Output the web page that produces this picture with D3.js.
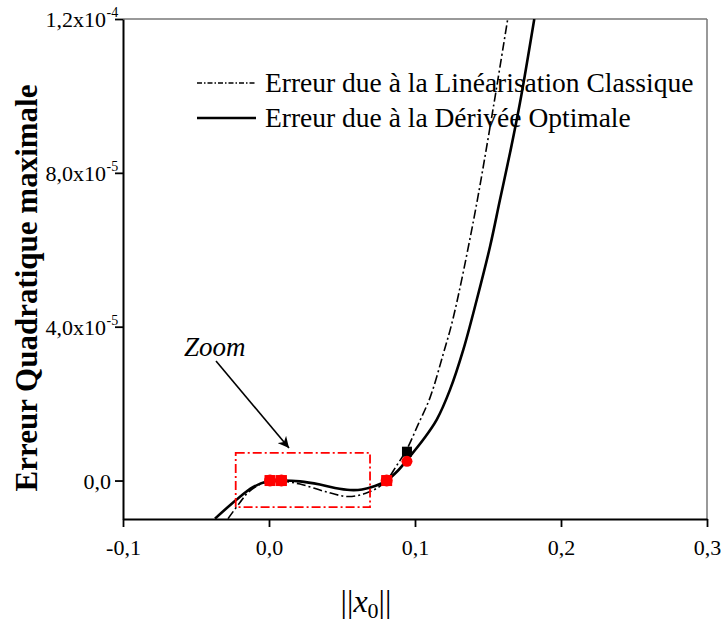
<!DOCTYPE html>
<html>
<head>
<meta charset="utf-8">
<script src="https://cdn.jsdelivr.net/npm/d3@7"></script>
<style>
  html, body { margin: 0; padding: 0; background: #fff; }
  svg { display: block; }
  text { font-family: "Liberation Serif", "Times New Roman", serif; fill: #000; }
</style>
</head>
<body>
<svg id="chart" width="728" height="626"></svg>
<script>
// x = ||x0||, y = maximal quadratic error
const xTicks = [-0.1, 0.0, 0.1, 0.2, 0.3];
const xTickLabels = ["-0,1", "0,0", "0,1", "0,2", "0,3"];
const yTicks = [0, 4e-5, 8e-5, 1.2e-4];
const yTickLabels = ["0,0", "4,0x10", "8,0x10", "1,2x10"];
const yTickExp = ["", "-5", "-5", "-4"];

// Error with the optimal derivative (solid)
const optimalX = [-0.0370, -0.0221, -0.0110, -0.0016, 0.0075, 0.0212, 0.0349, 0.0452, 0.0555, 0.0637, 0.0726, 0.0806, 0.0877, 0.0966, 0.1057, 0.1149, 0.1240, 0.1331, 0.1423, 0.1514, 0.1582, 0.1651, 0.1719, 0.1817];
const optimalY = [-9.9e-6, -4.93e-6, -1.74e-6, -2.6e-7, 0, -2.1e-7, -1.04e-6, -1.95e-6, -2.47e-6, -2.34e-6, -1.43e-6, 0, 2.34e-6, 6.31e-6, 1.065e-5, 1.584e-5, 2.363e-5, 3.403e-5, 4.70e-5, 6.085e-5, 7.30e-5, 8.52e-5, 9.82e-5, 1.2e-4];

// Error with the classical linearisation (dash-dot)
const classicX = [-0.0281, -0.0199, -0.0144, -0.0048, 0.0075, 0.0212, 0.0384, 0.0541, 0.0658, 0.0747, 0.0806, 0.0870, 0.0943, 0.1021, 0.1103, 0.1192, 0.1262, 0.1399, 0.1514, 0.1635];
const classicY = [-9.9e-6, -5.71e-6, -3.12e-6, -7.8e-7, -1.3e-7, -9.1e-7, -2.86e-6, -4.16e-6, -3.38e-6, -1.82e-6, 0, 3.64e-6, 8.05e-6, 1.454e-5, 2.156e-5, 3.272e-5, 4.233e-5, 6.726e-5, 9.193e-5, 1.2e-4];

// Highlighted points
const redPointsX = [0.0007, 0.0085, 0.0806];
const redPointsY = [0, 0, 0];
const redDotX = [0.0945];
const redDotY = [5.0e-6];
const blackSquareX = [0.0945];
const blackSquareY = [7.5e-6];

// Zoom region (data units)
const zoomBoxX = [-0.0228, 0.0692];
const zoomBoxY = [-6.9e-6, 7.2e-6];

const legendLabels = ["Erreur due à la Linéarisation Classique", "Erreur due à la Dérivée Optimale"];

const svg = d3.select("#chart");
const plotLeft = 123, plotRight = 707, plotTop = 19, plotBottom = 519;

const x = d3.scaleLinear().domain([-0.1, 0.3]).range([plotLeft, plotRight]);
const y = d3.scaleLinear().domain([-1e-5, 1.2e-4]).range([plotBottom, plotTop]);

const defs = svg.append("defs");
defs.append("clipPath").attr("id", "plotclip")
  .append("rect").attr("x", plotLeft).attr("y", plotTop)
  .attr("width", plotRight - plotLeft).attr("height", plotBottom - plotTop);

// Frame: top and right edges
svg.append("line").attr("x1", plotLeft).attr("x2", plotRight).attr("y1", plotTop).attr("y2", plotTop)
  .attr("stroke", "#777").attr("stroke-width", 1.5);
svg.append("line").attr("x1", plotRight).attr("x2", plotRight).attr("y1", plotTop).attr("y2", plotBottom)
  .attr("stroke", "#777").attr("stroke-width", 1.5);

// Axes
const xAxis = d3.axisBottom(x).tickValues(xTicks).tickSize(8).tickSizeOuter(0).tickFormat((d, i) => xTickLabels[i]);
const gx = svg.append("g").attr("transform", `translate(0,${plotBottom})`).call(xAxis);
gx.select(".domain").attr("stroke", "#000").attr("stroke-width", 2);
gx.selectAll(".tick line").attr("stroke", "#000").attr("stroke-width", 1.8);
gx.selectAll(".tick text").attr("font-size", 22).attr("font-family", "Liberation Serif")
  .attr("fill", "#000").attr("dy", null).attr("y", 36);

const yAxis = d3.axisLeft(y).tickValues(yTicks).tickSize(8).tickSizeOuter(0).tickFormat("");
const gy = svg.append("g").attr("transform", `translate(${plotLeft},0)`).call(yAxis);
gy.select(".domain").attr("stroke", "#000").attr("stroke-width", 2);
gy.selectAll(".tick line").attr("stroke", "#000").attr("stroke-width", 1.8);

// y tick labels: mantissa plus a raised exponent
yTicks.forEach((t, i) => {
  const lbl = svg.append("text").attr("y", y(t) + 8).attr("font-size", 22);
  const main = lbl.append("tspan").text(yTickLabels[i]);
  let right = 111;
  if (yTickExp[i]) {
    lbl.append("tspan").attr("font-size", 14).attr("dx", 0.5).attr("dy", -10).text(yTickExp[i]);
    right = 106;
  }
  const w = main.node().getComputedTextLength();
  lbl.attr("x", right - w);
});

// Axis titles
svg.append("text")
  .attr("transform", `translate(37,288) rotate(-90)`)
  .attr("text-anchor", "middle").attr("font-size", 31).attr("font-weight", "bold")
  .text("Erreur Quadratique maximale");

const xt = svg.append("text").attr("x", 366).attr("y", 612).attr("text-anchor", "middle").attr("font-size", 32);
xt.append("tspan").text("||");
xt.append("tspan").attr("font-style", "italic").text("x");
xt.append("tspan").attr("font-size", 22).attr("dy", 6).text("0");
xt.append("tspan").attr("dy", -6).text("||");

// Curves
const plot = svg.append("g").attr("clip-path", "url(#plotclip)");
const line = d3.line().x(d => x(d[0])).y(d => y(d[1])).curve(d3.curveCatmullRom.alpha(0.5));

plot.append("path").datum(d3.zip(classicX, classicY))
  .attr("d", line).attr("fill", "none").attr("stroke", "#000").attr("stroke-width", 1.6)
  .attr("stroke-dasharray", "9,3,2,3");

plot.append("path").datum(d3.zip(optimalX, optimalY))
  .attr("d", line).attr("fill", "none").attr("stroke", "#000").attr("stroke-width", 2.6);

// Zoom box
svg.append("rect")
  .attr("x", x(zoomBoxX[0])).attr("y", y(zoomBoxY[1]))
  .attr("width", x(zoomBoxX[1]) - x(zoomBoxX[0])).attr("height", y(zoomBoxY[0]) - y(zoomBoxY[1]))
  .attr("fill", "none").attr("stroke", "#f00").attr("stroke-width", 1.8)
  .attr("stroke-dasharray", "9,3,2,3");

// Markers
const pts = svg.append("g");
d3.zip(blackSquareX, blackSquareY).forEach(p => {
  pts.append("rect").attr("x", x(p[0]) - 5).attr("y", y(p[1]) - 5).attr("width", 10).attr("height", 10).attr("fill", "#000");
});
d3.zip(redPointsX, redPointsY).forEach(p => {
  pts.append("rect").attr("x", x(p[0]) - 5.5).attr("y", y(p[1]) - 5.5).attr("width", 11).attr("height", 11).attr("fill", "#f00");
  pts.append("circle").attr("cx", x(p[0])).attr("cy", y(p[1])).attr("r", 6).attr("fill", "#f00");
});
d3.zip(redDotX, redDotY).forEach(p => {
  pts.append("circle").attr("cx", x(p[0])).attr("cy", y(p[1])).attr("r", 5.5).attr("fill", "#f00");
});

// Zoom annotation
svg.append("text").attr("x", 184).attr("y", 356).attr("font-size", 27).attr("font-style", "italic").text("Zoom");
defs.append("marker").attr("id", "arrowhead")
  .attr("viewBox", "0 0 10 10").attr("refX", 10).attr("refY", 5)
  .attr("markerWidth", 7).attr("markerHeight", 7).attr("markerUnits", "strokeWidth").attr("orient", "auto")
  .append("path").attr("d", "M0,0 L10,5 L0,10 L3,5 Z").attr("fill", "#000");
svg.append("line").attr("x1", 216).attr("y1", 361).attr("x2", 289).attr("y2", 448)
  .attr("stroke", "#000").attr("stroke-width", 1.6).attr("marker-end", "url(#arrowhead)");

// Legend
const legend = svg.append("g");
legend.append("line").attr("x1", 197).attr("x2", 256).attr("y1", 83).attr("y2", 83)
  .attr("stroke", "#000").attr("stroke-width", 1.3).attr("stroke-dasharray", "5,2,1.5,2");
legend.append("text").attr("x", 265).attr("y", 92).attr("font-size", 27.5).text(legendLabels[0]);
legend.append("line").attr("x1", 197).attr("x2", 256).attr("y1", 118).attr("y2", 118)
  .attr("stroke", "#000").attr("stroke-width", 2.6);
legend.append("text").attr("x", 265).attr("y", 127).attr("font-size", 27.5).text(legendLabels[1]);
</script>
</body>
</html>
